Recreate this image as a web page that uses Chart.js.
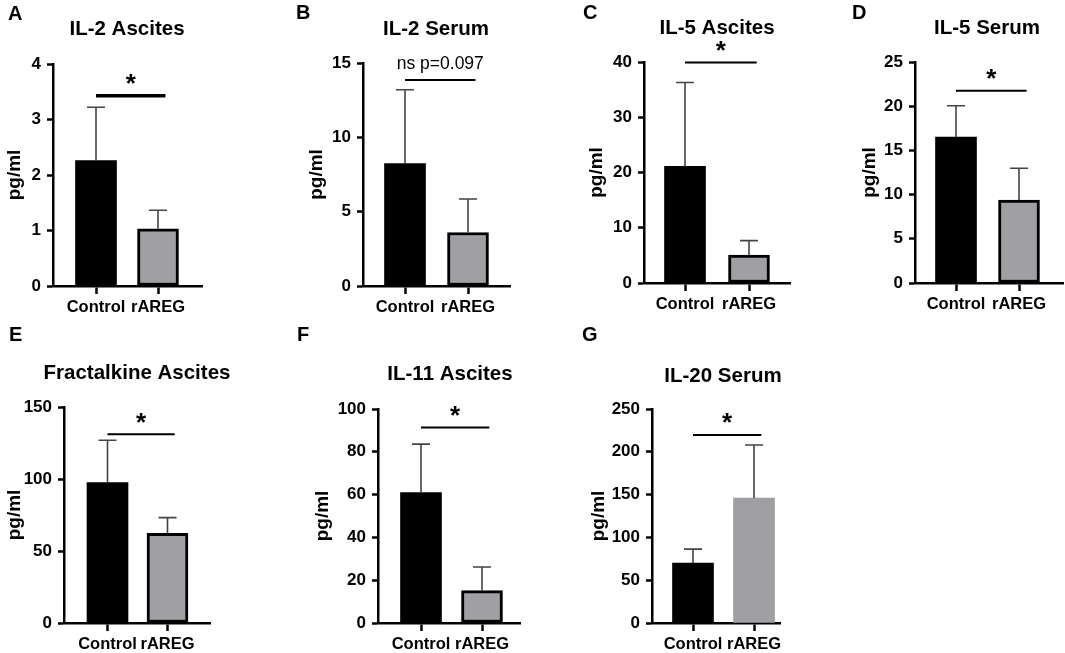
<!DOCTYPE html>
<html>
<head>
<meta charset="utf-8">
<script src="https://cdn.jsdelivr.net/npm/chart.js@4.4.1/dist/chart.umd.min.js"></script>
<style>
  body { margin: 0; background: #fff; }
  #wrap { position: relative; width: 1065px; height: 653px; overflow: hidden; background: #fff; }
  #wrap canvas { position: absolute; }
</style>
</head>
<body>
<div id="wrap"></div>
<script>
// values
const letters = ['A', 'B', 'C', 'D', 'E', 'F', 'G']
const titles = ['IL-2 Ascites', 'IL-2 Serum', 'IL-5 Ascites', 'IL-5 Serum', 'Fractalkine Ascites', 'IL-11 Ascites', 'IL-20 Serum']
const groups = ['Control', 'rAREG']
const controlMean = [2.26, 8.23, 21.1, 16.5, 97.6, 61.0, 70.0]
const controlErr = [0.96, 4.97, 15.2, 3.55, 29.3, 22.6, 16.3]
const aregMean = [1.03, 3.6, 5.07, 9.38, 62.3, 15.1, 145.8]
const aregErr = [0.335, 2.25, 2.6, 3.6, 10.9, 11.1, 62.2]
const yMax = [4, 15, 40, 25, 150, 100, 250]
const yStep = [1, 5, 10, 5, 50, 20, 50]
const sigText = ['*', 'ns p=0.097', '*', '*', '*', '*', '*']
const sigY = [3.43, 13.85, 39.9, 21.75, 131, 91.3, 219.7]

// where each panel sits on the page
const layout = [
  { left: 0,   top: 0,   w: 215, h: 330, axisX: 53,  top0: 64,  bot: 286, right: 202,  c0: 96,    c1: 158,   yOff: 38, titleX: 127, titleY: 29,  lx: 8,   ly: 20,  sigW: 3.5 },
  { left: 290, top: 0,   w: 230, h: 330, axisX: 363, top0: 63,  bot: 286, right: 510,  c0: 405,   c1: 468,   yOff: 46, titleX: 436, titleY: 29,  lx: 296, ly: 19,  sigW: 2 },
  { left: 575, top: 0,   w: 220, h: 330, axisX: 644, top0: 62,  bot: 283, right: 790,  c0: 685,   c1: 749,   yOff: 47, titleX: 717, titleY: 28,  lx: 583, ly: 19,  sigW: 2 },
  { left: 845, top: 0,   w: 220, h: 330, axisX: 915, top0: 62,  bot: 283, right: 1063, c0: 956,   c1: 1019,  yOff: 45, titleX: 987, titleY: 28,  lx: 852, ly: 19,  sigW: 2 },
  { left: 0,   top: 322, w: 245, h: 331, axisX: 64,  top0: 407, bot: 623, right: 210,  c0: 107.5, c1: 167.5, yOff: 49, titleX: 137, titleY: 373, lx: 9,   ly: 341, sigW: 2 },
  { left: 290, top: 322, w: 235, h: 331, axisX: 378, top0: 409, bot: 623, right: 520,  c0: 421,   c1: 482,   yOff: 55, titleX: 450, titleY: 374, lx: 297, ly: 341, sigW: 2 },
  { left: 575, top: 322, w: 215, h: 331, axisX: 652, top0: 409, bot: 623, right: 780,  c0: 693,   c1: 754,   yOff: 53, titleX: 723, titleY: 376, lx: 582, ly: 341, sigW: 2, aregBorder: 0 },
]

const FONT = "'Liberation Sans', Arial, sans-serif"
const X_H = 30
const TITLE_LH = 19 * 1.2

function makePanel(i) {
  const L = layout[i]
  const wrap = document.getElementById('wrap')
  const cv = document.createElement('canvas')
  cv.width = L.w
  cv.height = L.h
  cv.style.left = L.left + 'px'
  cv.style.top = L.top + 'px'
  cv.style.width = L.w + 'px'
  cv.style.height = L.h + 'px'
  wrap.appendChild(cv)

  const yW = L.yOff + TITLE_LH / 2
  const gap = L.c1 - L.c0
  const errs = [controlErr[i], aregErr[i]]

  const extras = {
    id: 'extras' + i,
    afterDatasetsDraw(chart) {
      const ctx = chart.ctx
      const ys = chart.scales.y
      const meta = chart.getDatasetMeta(0)
      ctx.save()
      ctx.strokeStyle = '#444'
      ctx.lineWidth = 1.6
      meta.data.forEach((bar, k) => {
        const v = chart.data.datasets[0].data[k].y
        const yTop = ys.getPixelForValue(v + errs[k])
        ctx.beginPath()
        ctx.moveTo(bar.x, bar.y)
        ctx.lineTo(bar.x, yTop)
        ctx.moveTo(bar.x - 9, yTop)
        ctx.lineTo(bar.x + 9, yTop)
        ctx.stroke()
      })
      ctx.restore()
    },
    afterDraw(chart) {
      const ctx = chart.ctx
      const xs = chart.scales.x
      const ys = chart.scales.y
      ctx.save()
      // significance bar
      const yy = ys.getPixelForValue(sigY[i])
      const x0 = xs.getPixelForValue(0)
      const x1 = xs.getPixelForValue(1.12)
      ctx.strokeStyle = '#000'
      ctx.lineWidth = L.sigW
      ctx.beginPath()
      ctx.moveTo(x0, yy)
      ctx.lineTo(x1, yy)
      ctx.stroke()
      ctx.fillStyle = '#000'
      ctx.textAlign = 'center'
      ctx.textBaseline = 'middle'
      if (sigText[i] === '*') {
        ctx.font = 'bold 26px ' + FONT
        ctx.fillText('*', (x0 + x1) / 2, yy - 11)
      } else {
        ctx.font = '17.5px ' + FONT
        ctx.fillText(sigText[i], (x0 + x1) / 2, yy - 16)
      }
      // panel title and letter
      ctx.font = 'bold 20.5px ' + FONT
      ctx.fillText(titles[i], L.titleX - L.left, L.titleY - L.top)
      ctx.font = 'bold 20px ' + FONT
      ctx.textAlign = 'left'
      ctx.textBaseline = 'alphabetic'
      ctx.fillText(letters[i], L.lx - L.left, L.ly - L.top)
      ctx.restore()
    }
  }

  new Chart(cv, {
    type: 'bar',
    data: {
      datasets: [{
        data: [{ x: 0, y: controlMean[i] }, { x: 1, y: aregMean[i] }],
        backgroundColor: ['#000000', '#a0a0a4'],
        borderColor: '#000000',
        borderWidth: [0, L.aregBorder === undefined ? 3 : L.aregBorder],
        borderSkipped: false,
        barThickness: 41,
      }]
    },
    options: {
      responsive: false,
      animation: false,
      devicePixelRatio: 1,
      layout: {
        padding: {
          left: L.axisX - L.left - yW,
          right: L.left + L.w - L.right,
          top: L.top0 - L.top,
          bottom: L.h - X_H - (L.bot - L.top),
        }
      },
      plugins: { legend: { display: false }, tooltip: { enabled: false }, title: { display: false } },
      scales: {
        x: {
          type: 'linear',
          offset: false,
          min: (L.axisX - L.c0) / gap,
          max: (L.right - L.c0) / gap,
          afterBuildTicks: s => { s.ticks = [{ value: 0 }, { value: 1 }] },
          afterFit: s => { s.height = X_H },
          ticks: {
            callback: v => groups[v],
            color: '#000',
            font: { family: FONT, size: 16.5, weight: 'bold' },
            padding: 4,
            maxRotation: 0,
            autoSkip: false,
          },
          grid: { display: true, drawOnChartArea: false, offset: false, tickLength: 8, tickColor: '#000', tickWidth: 2.5 },
          border: { display: true, color: '#000', width: 2.5 },
        },
        y: {
          min: 0,
          max: yMax[i],
          afterFit: s => { s.width = yW },
          ticks: {
            stepSize: yStep[i],
            color: '#000',
            font: { family: FONT, size: 17, weight: 'bold' },
            padding: 6,
          },
          grid: { display: true, drawOnChartArea: false, tickLength: 6, tickColor: '#000', tickWidth: 2.5 },
          border: { display: true, color: '#000', width: 2.5 },
          title: { display: true, text: 'pg/ml', color: '#000', padding: 0, font: { family: FONT, size: 19, weight: 'bold' } },
        }
      }
    },
    plugins: [extras]
  })
}

for (let i = 0; i < titles.length; i++) makePanel(i)
</script>
</body>
</html>
